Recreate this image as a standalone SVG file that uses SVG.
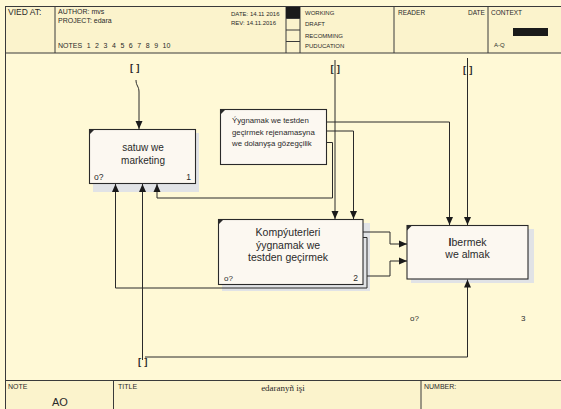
<svg xmlns="http://www.w3.org/2000/svg" width="561" height="409" viewBox="0 0 561 409">
<defs>
<style>
.t{font-family:"Liberation Sans",Arial,sans-serif;fill:#2a2a2a}
.h{font-size:7px}
.box{fill:#fcf8f1;stroke:#2a2a2a;stroke-width:1.1}
.sh{fill:#e1e3e6}
.ln{fill:none;stroke:#2a2a2a;stroke-width:1}
.fr{fill:none;stroke:#3a3a3a;stroke-width:1}
.tn{font-size:9.5px;font-weight:bold;letter-spacing:3px}
</style>
<marker id="ah" viewBox="0 0 8 8" refX="8" refY="4" markerWidth="8" markerHeight="8" markerUnits="userSpaceOnUse" orient="auto">
<path d="M0,0.5 L8,4 L0,7.5 Z" fill="#1a1a1a"/>
</marker>
</defs>
<rect x="0" y="0" width="561" height="409" fill="#fff9d6"/>
<g id="header">
<rect x="5" y="6" width="556" height="47" fill="#fbf3cc"/>
<line class="fr" x1="5" y1="6.5" x2="561" y2="6.5"/>
<line class="fr" x1="5" y1="53" x2="561" y2="53" stroke-width="1.4"/>
<line class="fr" x1="55" y1="6" x2="55" y2="53"/>
<line class="fr" x1="286" y1="6" x2="286" y2="53"/>
<line class="fr" x1="300" y1="6" x2="300" y2="53"/>
<line class="fr" x1="394" y1="6" x2="394" y2="53"/>
<line class="fr" x1="488" y1="6" x2="488" y2="53"/>
<rect x="286" y="7" width="14" height="11" fill="#1a1a1a"/>
<line class="fr" x1="286" y1="18.5" x2="300" y2="18.5"/>
<line class="fr" x1="286" y1="30" x2="300" y2="30"/>
<line class="fr" x1="286" y1="41.5" x2="300" y2="41.5"/>
<text class="t" x="8" y="15" font-size="8.5">VIED AT:</text>
<text class="t h" x="58" y="14">AUTHOR: mvs</text>
<text class="t h" x="58" y="23">PROJECT: edara</text>
<text class="t h" x="58" y="48" word-spacing="2.6">NOTES  1 2 3 4 5 6 7 8 9 10</text>
<text class="t" x="231" y="16" font-size="6">DATE:  14.11 2016</text>
<text class="t" x="231" y="25" font-size="6">REV:  14.11.2016</text>
<text class="t" x="305" y="15" font-size="6">WORKING</text>
<text class="t" x="305" y="26" font-size="6">DRAFT</text>
<text class="t" x="305" y="38" font-size="6">RECOMMING</text>
<text class="t" x="305" y="48" font-size="6">PUDUCATION</text>
<text class="t" x="398" y="15" font-size="6.5">READER</text>
<text class="t" x="468" y="15" font-size="6.5">DATE</text>
<text class="t" x="491" y="15" font-size="6.5">CONTEXT</text>
<rect x="513" y="28" width="35" height="8" fill="#1a1a1a"/>
<text class="t" x="494" y="47" font-size="6">A-Q</text>
</g>
<g id="footer">
<rect x="5" y="380" width="556" height="29" fill="#fbf3cc"/>
<line class="fr" x1="5" y1="380.5" x2="561" y2="380.5" stroke-width="1.2"/>
<line class="fr" x1="113.5" y1="380" x2="113.5" y2="409"/>
<line class="fr" x1="421" y1="380" x2="421" y2="409"/>
<text class="t h" x="8" y="389">NOTE</text>
<text class="t" x="52" y="406" font-size="11">AO</text>
<text class="t h" x="118" y="389">TITLE</text>
<text x="283" y="391" font-family="'Liberation Serif','Times New Roman',serif" font-size="9" fill="#2a2a2a" text-anchor="middle">edaranyñ işi</text>
<text class="t h" x="424" y="389">NUMBER:</text>
</g>
<line class="fr" x1="5.5" y1="6" x2="5.5" y2="409"/>
<g id="node-1">
<rect class="sh" x="93" y="133" width="106" height="59"/>
<rect class="box" x="89.5" y="129.5" width="106" height="54"/>
<path d="M89.5,129.5 h5 l-5,5 z" fill="#2a2a2a"/>
<text class="t" x="143" y="150.5" font-size="10" text-anchor="middle">satuw we</text>
<text class="t" x="143" y="164" font-size="10" text-anchor="middle">marketing</text>
<text class="t" x="94" y="180" font-size="8.5">o?</text>
<text class="t" x="191" y="180" font-size="8.5" text-anchor="end">1</text>
</g>
<g id="note">
<rect class="box" x="220.5" y="109.5" width="106" height="55"/>
<path d="M220.5,109.5 h5 l-5,5 z" fill="#2a2a2a"/>
<text class="t" x="232" y="123" font-size="7.8">Ýygnamak we testden</text>
<text class="t" x="232" y="134.5" font-size="7.8">geçirmek rejenamasyna</text>
<text class="t" x="232" y="146" font-size="7.8">we dolanyşa gözegçilik</text>
</g>
<g id="node-2">
<rect class="sh" x="222" y="223" width="148" height="68"/>
<rect class="box" x="218.5" y="219.5" width="144.5" height="65"/>
<path d="M218.5,219.5 h5 l-5,5 z" fill="#2a2a2a"/>
<text class="t" x="288" y="235.5" font-size="10.5" text-anchor="middle">Kompýuterleri</text>
<text class="t" x="288" y="248.5" font-size="10.5" text-anchor="middle">ýygnamak we</text>
<text class="t" x="288" y="261" font-size="10.5" text-anchor="middle">testden geçirmek</text>
<text class="t" x="224" y="281" font-size="8">o?</text>
<text class="t" x="358" y="281" font-size="8.5" text-anchor="end">2</text>
</g>
<g id="node-3">
<rect class="sh" x="411" y="229" width="123" height="54"/>
<rect class="box" x="407" y="225.5" width="121" height="53.5"/>
<path d="M407,225.5 h5 l-5,5 z" fill="#2a2a2a"/>
<text class="t" x="467.5" y="245.5" font-size="10.5" text-anchor="middle"><tspan font-weight="bold">I</tspan>bermek</text>
<text class="t" x="467.5" y="257.5" font-size="10.5" text-anchor="middle">we almak</text>
<text class="t" x="410" y="321" font-size="8">o?</text>
<text class="t" x="521" y="321" font-size="8">3</text>
</g>
<g id="connectors">
<path class="ln" d="M136,80 C136,86 139,86 139,92 L139,129" marker-end="url(#ah)"/>
<path class="ln" d="M335,60 L335,219" marker-end="url(#ah)"/>
<path class="ln" d="M467.5,58 L467.5,225" marker-end="url(#ah)"/>
<path class="ln" d="M327,122 L449.5,122 L449.5,225" marker-end="url(#ah)"/>
<path class="ln" d="M327,131 L353.5,131 L353.5,219" marker-end="url(#ah)"/>
<path class="ln" d="M327,142.5 L332.5,142.5 L332.5,198 L157,198 L157,184" marker-end="url(#ah)"/>
<path class="ln" d="M363,237.5 L367,237.5 L367,288 L115.5,288 L115.5,184" marker-end="url(#ah)"/>
<path class="ln" d="M142.5,360 L142.5,184" marker-end="url(#ah)"/>
<path class="ln" d="M145,357 L467.5,357 L467.5,279.5" marker-end="url(#ah)"/>
<path class="ln" d="M363,232 L390,232 L390,244 L407,244" marker-end="url(#ah)"/>
<path class="ln" d="M367,276 L390,276 L390,261 L407,261" marker-end="url(#ah)"/>
<text class="t tn" x="130" y="71">[]</text>
<text class="t tn" x="330.5" y="72">[]</text>
<text class="t tn" x="463" y="73">[]</text>
<text class="t tn" x="138" y="365">[]</text>
</g>
</svg>
